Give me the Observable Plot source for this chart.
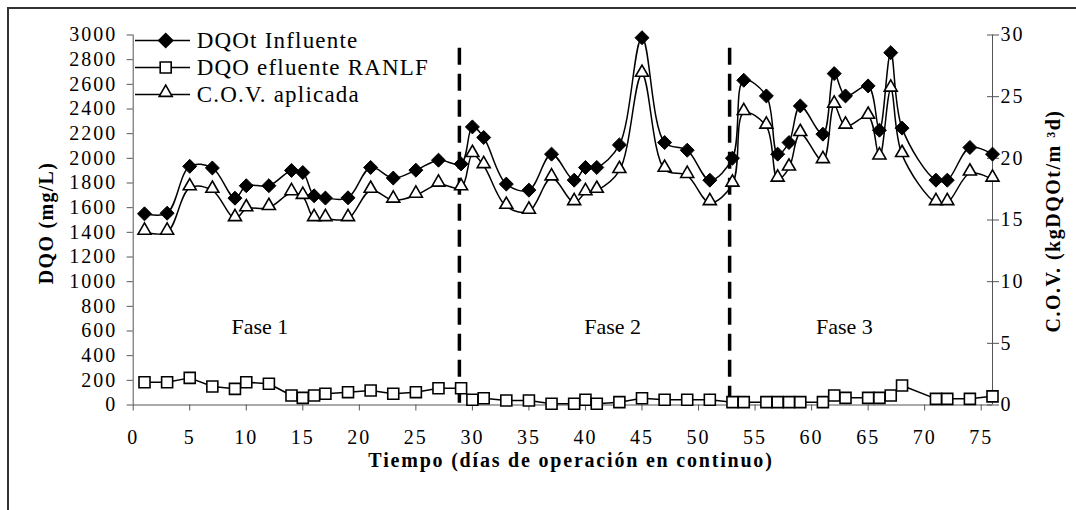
<!DOCTYPE html>
<html><head><meta charset="utf-8">
<script src="https://cdn.jsdelivr.net/npm/d3@7"></script>
<script src="https://cdn.jsdelivr.net/npm/@observablehq/plot@0.6"></script>
<style>
body{margin:0;background:#fff;}
#wrap{position:relative;width:1076px;height:510px;overflow:hidden;background:#fff;}
#frame{position:absolute;left:7px;top:7px;width:2000px;height:2000px;border:2px solid #333;box-sizing:border-box;pointer-events:none;}
#wrap svg{position:absolute;left:0;top:0;}
g[aria-label$="tick label"] text{letter-spacing:2px;}
</style></head><body><div id="wrap"><div id="frame"></div></div>
<script>
// ---- data ----
const days = [1,3,5,7,9,10,12,14,15,16,17,19,21,23,25,27,29,30,31,33,35,37,39,40,41,43,45,47,49,51,53,54,56,57,58,59,61,62,63,65,66,67,68,71,72,74,76];
const dqoInfluente = [1550,1555,1935,1922,1677,1778,1778,1902,1885,1696,1678,1680,1926,1840,1904,1985,1955,2255,2169,1791,1742,2034,1823,1926,1926,2109,2978,2128,2066,1823,2001,2633,2506,2034,2128,2425,2196,2687,2506,2587,2228,2857,2245,1823,1823,2088,2034];
const dqoEfluente = [185,185,220,150,131,185,172,77,58,77,91,104,117,91,104,136,136,42,55,36,36,10,10,42,10,23,55,42,42,42,23,23,23,23,23,23,23,77,58,58,58,77,158,50,50,50,70];
const covAplicada = [14.0,14.0,17.6,17.4,15.1,15.9,16.0,17.2,16.9,15.1,15.1,15.1,17.4,16.6,17.0,17.9,17.6,20.3,19.4,16.1,15.7,18.4,16.4,17.2,17.4,19.0,26.8,19.1,18.6,16.4,17.9,23.7,22.6,18.3,19.2,22.0,19.8,24.3,22.6,23.4,20.1,25.6,20.3,16.4,16.4,18.8,18.3];
const yTicks = d3.range(0, 3001, 200);
const covTicks = [0,5,10,15,20,25,30];
const xTicks = d3.range(0, 76, 5);
const phaseBounds = [28.85, 52.75];
const phaseLabels = ["Fase 1","Fase 2","Fase 3"];
const phaseX = [11.2, 42.4, 62.9];
const phaseY = 630;
const seriesNames = ["DQOt Influente","DQO efluente RANLF","C.O.V. aplicada"];
const xTitle = "Tiempo (días de operación en continuo)";
const yTitle = "DQO (mg/L)";
const y2Title = "C.O.V. (kgDQOt/m ³d)";
const covFactor = 3000 / 30; // right axis 0–30 aligned with left 0–3000

const rows = days.map((d,i)=>({day:d, inf:dqoInfluente[i], ef:dqoEfluente[i], cov:covAplicada[i]*covFactor}));
const covTicksScaled = covTicks.map(v => v*covFactor);
const axisColor = "#555";
const font = "'Liberation Serif','Times New Roman',serif";

const svg = Plot.plot({
  width: 1076, height: 510,
  marginLeft: 132.7, marginRight: 84, marginTop: 34.5, marginBottom: 105.5,
  style: {fontFamily: font, fontSize: "20px", color: "black", background: "transparent", overflow: "visible"},
  x: {domain: [0, 76]},
  y: {domain: [0, 3000]},
  marks: [
    Plot.ruleX([0, 76], {stroke: axisColor, strokeWidth: 1}),
    Plot.ruleY([0], {stroke: axisColor, strokeWidth: 1}),
    Plot.axisY({ticks: yTicks, tickFormat: d => String(d), tickSize: 6, tickPadding: 10, label: null, stroke: axisColor, fill: "black"}),
    Plot.axisY({anchor: "right", ticks: covTicksScaled, tickFormat: d => String(d/covFactor), tickSize: 12, dx: -6, tickPadding: 2, label: null, stroke: axisColor, fill: "black"}),
    Plot.axisX({ticks: xTicks, tickFormat: d => String(d), tickSize: 6, tickPadding: 19, label: null, stroke: axisColor, fill: "black"}),
    Plot.ruleX(phaseBounds, {y1: 2893, y2: -58, stroke: "black", strokeWidth: 3.5, strokeDasharray: "17,9"}),
    Plot.text(phaseLabels, {x: (d,i) => phaseX[i], y: () => phaseY, text: d => d, fontSize: 22, fill: "black"}),
    Plot.line(rows, {x: "day", y: "inf", curve: "catmull-rom", stroke: "black", strokeWidth: 1.5}),
    Plot.dot(rows, {x: "day", y: "inf", symbol: "diamond2", r: 6.3, fill: "black", stroke: "black", strokeWidth: 1}),
    Plot.line(rows, {x: "day", y: "ef", stroke: "black", strokeWidth: 1.5}),
    Plot.dot(rows, {x: "day", y: "ef", symbol: "square2", r: 7, fill: "white", stroke: "black", strokeWidth: 1.6}),
    Plot.line(rows, {x: "day", y: "cov", curve: "catmull-rom", stroke: "black", strokeWidth: 1.5}),
    Plot.dot(rows, {x: "day", y: "cov", symbol: "triangle2", r: 6.2, dy: -1.9, fill: "white", stroke: "black", strokeWidth: 1.6})
  ]
});
document.getElementById("wrap").appendChild(svg);

const s = d3.select(svg);
// axis titles
s.append("text").attr("transform","translate(46,223) rotate(-90)").attr("text-anchor","middle").attr("dy","0.35em")
  .attr("font-family",font).attr("font-size",20).attr("font-weight","bold").style("letter-spacing","1.3px").text(yTitle);
s.append("text").attr("transform","translate(1053,221) rotate(-90)").attr("text-anchor","middle").attr("dy","0.35em")
  .attr("font-family",font).attr("font-size",20).attr("font-weight","bold").style("letter-spacing","1.5px").text(y2Title);
s.append("text").attr("transform","translate(571,460)").attr("text-anchor","middle").attr("dy","0.35em")
  .attr("font-family",font).attr("font-size",20).attr("font-weight","bold").style("letter-spacing","1.8px").text(xTitle);

// legend
const legSymbols = [
  {type: d3.symbolDiamond2, r: 6.3, fill: "black", dy: 0},
  {type: d3.symbolSquare2, r: 7, fill: "white", dy: 0},
  {type: d3.symbolTriangle2, r: 6.2, fill: "white", dy: -1.9}
];
const legY = [40.5, 67.5, 94.5];
const lg = s.append("g").attr("aria-label","legend");
seriesNames.forEach((name, i) => {
  const y = legY[i];
  lg.append("line").attr("x1",135).attr("x2",190).attr("y1",y).attr("y2",y).attr("stroke","black").attr("stroke-width",1.5);
  lg.append("path").attr("d", d3.symbol(legSymbols[i].type, Math.PI*legSymbols[i].r**2)())
    .attr("transform",`translate(165.7,${y+legSymbols[i].dy})`).attr("fill",legSymbols[i].fill).attr("stroke","black").attr("stroke-width",1.6);
  lg.append("text").attr("x",196.7).attr("y",y).attr("dy","0.33em").attr("text-anchor","start").attr("font-family",font).attr("font-size",23)
    .style("letter-spacing","1.2px").text(name);
});
</script></body></html>
